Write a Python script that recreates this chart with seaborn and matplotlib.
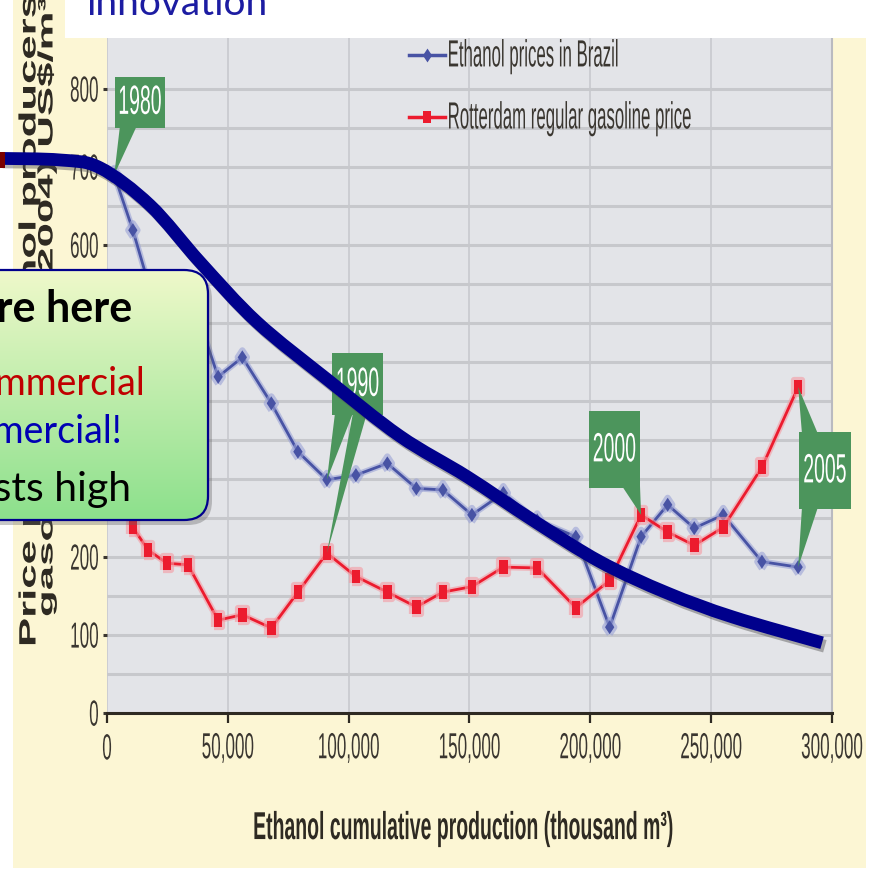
import numpy as np
import pandas as pd
import matplotlib
matplotlib.use("Agg")
import matplotlib.pyplot as plt
import seaborn as sns
from matplotlib import patheffects as pe
from matplotlib import font_manager
from matplotlib.lines import Line2D
from matplotlib.patches import Rectangle, FancyBboxPatch, Polygon, PathPatch
from matplotlib.path import Path
from matplotlib.transforms import Affine2D, IdentityTransform
from matplotlib.ticker import FixedLocator

# ---------------------------------------------------------------- data
cumulative_production = [3000, 10700, 17000, 24800, 33500, 46000, 56000, 68000,
                         79000, 91000, 103000, 116000, 128000, 139000, 151000,
                         164000, 178000, 194000, 208000, 221000, 232000, 243000,
                         255000, 271000, 286000]
ethanol_price = [690, 619, 552, 535, 546, 431, 456, 397, 335, 299, 305, 320, 288,
                 286, 254, 282, 247, 226, 110, 226, 267, 237, 254, 194, 187]
gasoline_price = [300, 238, 209, 192, 190, 119, 126, 109, 155, 205, 175, 155, 136,
                  155, 162, 187, 186, 135, 170, 254, 232, 215, 238, 315, 418]
series_names = ["Ethanol prices in Brazil", "Rotterdam regular gasoline price"]

x_ticks = [0, 50000, 100000, 150000, 200000, 250000, 300000]
x_tick_labels = ["0", "50,000", "100,000", "150,000", "200,000", "250,000", "300,000"]
y_ticks = [0, 100, 200, 300, 400, 500, 600, 700, 800]
y_tick_labels = ["0", "100", "200", "300", "400", "500", "600", "700", "800"]

# year call-outs: label, index of that year in the series, series the pointers reach
callout_years = ["1980", "1990", "2000", "2005"]
callout_index = [0, 9, 19, 24]
callout_targets = [["ethanol"], ["ethanol", "gasoline"], ["gasoline"], ["gasoline", "ethanol"]]

# hand-drawn learning curve laid over the chart (production, price)
learning_x = [-44300, -19400, -2900, 17800, 38500, 62100, 91400, 121200, 149000,
              176300, 204000, 231700, 259000, 295900]
learning_y = [711, 709, 699, 651, 578, 501, 427, 355, 303, 247, 194, 154, 123, 90]

# ---------------------------------------------------------------- style
W, H = 870, 872
BLUE = "#4853A4"
RED = "#EC1B2E"
CALLOUT_GREEN = "#4C955C"
NAVY = "#00008C"
PLOT_BG = "#E3E4E8"
CREAM = "#FCF6D4"
INK = "#3A3630"


def pick_font(candidates):
    for name in candidates:
        try:
            font_manager.findfont(font_manager.FontProperties(family=name),
                                  fallback_to_default=False)
            return name
        except ValueError:
            continue
    return "DejaVu Sans"


SANS = pick_font(["Liberation Sans", "Arial", "DejaVu Sans"])
SLIDE = pick_font(["Lato", "Open Sans"])


class Stretch(pe.AbstractPathEffect):
    """Scale text glyphs in their own frame around a point of their ink box."""

    def __init__(self, sx=1.0, sy=1.0, fx=0.5, fy=0.5):
        super().__init__()
        self.sx, self.sy, self.fx, self.fy = sx, sy, fx, fy

    def draw_path(self, renderer, gc, tpath, affine, rgbFace=None):
        v = tpath.vertices
        if len(v):
            (x0, y0), (x1, y1) = v.min(axis=0), v.max(axis=0)
            cx, cy = x0 + (x1 - x0) * self.fx, y0 + (y1 - y0) * self.fy
        else:
            cx = cy = 0.0
        st = Affine2D().translate(-cx, -cy).scale(self.sx, self.sy).translate(cx, cy)
        renderer.draw_path(gc, tpath, st + affine, rgbFace)


def fxf(x):
    return x / W


def fyf(y):
    return 1 - y / H


fig = plt.figure(figsize=(W / 100, H / 100), dpi=100, facecolor="white")

# cream backdrop of the chart picture
fig.add_artist(Rectangle((fxf(13), fyf(868)), fxf(866) - fxf(13), fyf(0) - fyf(868),
                         transform=fig.transFigure, facecolor=CREAM,
                         edgecolor="none", zorder=-5))

Y_MAX = 880
AX_L, AX_R, AX_B = 107, 832, 713
AX_T = AX_B - Y_MAX * 0.78
ax = fig.add_axes([fxf(AX_L), fyf(AX_B), fxf(AX_R) - fxf(AX_L), fyf(AX_T) - fyf(AX_B)],
                  zorder=1)
ax.set_facecolor(PLOT_BG)

n = len(cumulative_production)
df = pd.DataFrame({
    "production": cumulative_production + cumulative_production,
    "price": ethanol_price + gasoline_price,
    "series": [series_names[0]] * n + [series_names[1]] * n,
})

diamond = np.array([[0, -1], [0.66, 0], [0, 1], [-0.66, 0], [0, -1]])
tall_square = np.array([[-0.62, -1], [0.62, -1], [0.62, 1], [-0.62, 1], [-0.62, -1]])
palette = {series_names[0]: BLUE, series_names[1]: RED}
markers = {series_names[0]: diamond, series_names[1]: tall_square}

sns.lineplot(data=df, x="production", y="price", hue="series", style="series",
             palette=palette, markers=markers, dashes=False, sort=False,
             markersize=10, linewidth=2.0, markeredgewidth=0, legend=False,
             ax=ax, zorder=3)
glow = {BLUE: "#9AA2D6", RED: "#F59AA2"}
for line in ax.lines:
    c = matplotlib.colors.to_hex(line.get_color()).upper()
    line.set_path_effects([pe.Stroke(linewidth=4.5, foreground=glow.get(c, "#cccccc"),
                                     alpha=0.6), pe.Normal()])

ax.set_xlim(0, 300000)
ax.set_ylim(0, Y_MAX)
ax.set_xticks(x_ticks)
ax.set_xticklabels(x_tick_labels)
ax.set_yticks(y_ticks)
ax.set_yticklabels(y_tick_labels)
ax.yaxis.set_minor_locator(FixedLocator([v + 50 for v in y_ticks[:-1]]))
ax.tick_params(axis="y", which="minor", length=0)
ax.grid(axis="y", which="both", color="#C7C8CC", linewidth=2.2)
ax.grid(axis="x", which="major", color="#CACBD0", linewidth=1.3)
ax.set_axisbelow(True)
for side in ("top", "left"):
    ax.spines[side].set_visible(False)
ax.spines["right"].set_color("#B9BAC0")
ax.spines["right"].set_linewidth(1.5)
ax.spines["bottom"].set_color("#2E2A22")
ax.spines["bottom"].set_linewidth(2.2)
ax.tick_params(axis="x", which="major", length=7, width=1.6, color="#2E2A22",
               pad=13, labelsize=12.3, labelcolor=INK)
ax.tick_params(axis="y", which="major", length=3, width=2.2, color=INK,
               pad=3, labelsize=12.3, labelcolor=INK)
for lbl in ax.get_xticklabels() + ax.get_yticklabels():
    lbl.set_fontfamily(SANS)
    lbl.set_path_effects([Stretch(sy=2.12)])

# axis titles
ax.set_xlabel("Ethanol cumulative production (thousand m³)", fontsize=14,
              fontweight="bold", fontfamily=SANS, color="#2E2A22")
ax.xaxis.label.set_path_effects([Stretch(sy=2.0)])
ax.xaxis.set_label_coords((464 - AX_L) / (AX_R - AX_L), -(829 - AX_B) / (AX_B - AX_T))
ax.xaxis.label.set_va("center")

ax.set_ylabel("Price paid to alcohol producers and", fontsize=17, fontweight="bold",
              fontfamily=SANS, color="#2E2A22")
ylab = ax.yaxis.label
ylab.set_rotation_mode("anchor")
ylab.set_ha("left")
ylab.set_va("center")
ax.yaxis.set_label_coords(-(AX_L - 29) / (AX_R - AX_L), -(647 - AX_B) / (AX_B - AX_T))
ylab.set_path_effects([Stretch(sx=1.85, fx=0.0)])
ax.text(-(AX_L - 47) / (AX_R - AX_L), -(617 - AX_B) / (AX_B - AX_T),
        "gasoline prices (2004) US$/m³", transform=ax.transAxes, rotation=90,
        rotation_mode="anchor", ha="left", va="center", fontsize=15,
        fontweight="bold", fontfamily=SANS, color="#2E2A22",
        path_effects=[Stretch(sx=2.1, fx=0.0)])

# legend
handles = [
    Line2D([], [], color=BLUE, lw=2.5, marker=diamond, ms=10, mew=0),
    Line2D([], [], color=RED, lw=2.5, marker=tall_square, ms=9, mew=0),
]
leg = ax.legend(handles, series_names, loc="upper left", frameon=False,
                bbox_to_anchor=(fxf(409), fyf(49)), bbox_transform=fig.transFigure,
                handlelength=2.15, handletextpad=0.15,
                labelspacing=2.8, borderpad=0, borderaxespad=0,
                prop={"family": SANS, "size": 12.1})
for t in leg.get_texts():
    t.set_color(INK)
    t.set_path_effects([Stretch(sy=2.25)])

# year call-outs
fig.canvas.draw()
to_disp = ax.transData.transform
series_lookup = {"ethanol": ethanol_price, "gasoline": gasoline_price}
callout_layout = {
    "1980": dict(center=(140, 102), size=(50, 51), bases=[(-11.5, 17)]),
    "1990": dict(center=(357.5, 384), size=(51, 62), bases=[(-13.5, 18), (2.5, 14)]),
    "2000": dict(center=(614.5, 449.5), size=(51, 77), bases=[(16.5, 18)]),
    "2005": dict(center=(825, 470.5), size=(52, 77), bases=[(-15, 16), (-15, 16)]),
}
for year, idx, targets in zip(callout_years, callout_index, callout_targets):
    lay = callout_layout[year]
    cxp, cyp = lay["center"][0], H - lay["center"][1]
    bw, bh = lay["size"]
    ax.add_patch(Rectangle((cxp - bw / 2, cyp - bh / 2), bw, bh,
                           transform=IdentityTransform(), facecolor=CALLOUT_GREEN,
                           edgecolor="none", zorder=6, clip_on=False))
    for tgt, (dx, bwid) in zip(targets, lay["bases"]):
        tx, ty = to_disp((cumulative_production[idx], series_lookup[tgt][idx]))
        edge = cyp + bh / 2 - 2 if ty > cyp else cyp - bh / 2 + 2
        ax.add_patch(Polygon([(cxp + dx - bwid / 2, edge), (cxp + dx + bwid / 2, edge),
                              (tx, ty)], closed=True, transform=IdentityTransform(),
                             facecolor=CALLOUT_GREEN, edgecolor="none", zorder=6,
                             clip_on=False))
    ax.text(cxp, cyp, year, transform=IdentityTransform(), ha="center", va="center",
            color="white", fontsize=14, fontfamily=SANS, zorder=7,
            path_effects=[Stretch(sy=2.1)])

# ---------------------------------------------------------------- slide layer
ov = fig.add_axes([0, 0, 1, 1], zorder=5)
ov.set_xlim(0, W)
ov.set_ylim(H, 0)
ov.set_autoscale_on(False)
ov.axis("off")
ov.patch.set_alpha(0)

# title strip and left margin
ov.add_patch(Rectangle((65, -5), W - 60, 43, facecolor="white", edgecolor="none", zorder=1))
ov.add_patch(Rectangle((-5, -5), 18, H + 10, facecolor="white", edgecolor="none", zorder=1))
ov.text(87, 15, "innovation", ha="left", va="baseline", fontsize=28,
        fontfamily=SLIDE, color="#1C1CA2", zorder=2)

# note box with vertical gradient
box_kw = dict(boxstyle="round,pad=0,rounding_size=24")
ov.add_patch(FancyBboxPatch((-40 + 4, 270 + 5), 248, 250, facecolor="#606060",
                            edgecolor="none", alpha=0.35, zorder=2, **box_kw))
box = FancyBboxPatch((-40, 270), 248, 250, facecolor="none", edgecolor=NAVY,
                     linewidth=1.6, zorder=4, **box_kw)
ov.add_patch(box)
top_c = np.array([239, 249, 202]) / 255
bot_c = np.array([140, 224, 140]) / 255
t = np.linspace(0, 1, 256)[:, None, None]
grad = top_c[None, None, :] * (1 - t) + bot_c[None, None, :] * t
img = ov.imshow(grad, extent=[-40, 208, 520, 270], aspect="auto", zorder=3,
                interpolation="bilinear")
img.set_clip_path(box)

note_lines = [
    ("We are here", 132, 322, "black", "bold", 31),
    ("Gasoline: commercial", 145, 395, "#C00000", "normal", 27),
    ("Ethanol: not commercial!", 122, 443, "#0000B4", "normal", 27),
    ("Costs high", 131, 501, "black", "normal", 29.5),
]
for txt, xr, yb, col, wt, sz in note_lines:
    ov.text(xr, yb, txt, ha="right", va="baseline", color=col, fontweight=wt,
            fontsize=sz, fontfamily=SLIDE, zorder=5)

# learning curve drawn as a smooth Bezier path through its points
pts = np.column_stack([learning_x, learning_y]).astype(float)
verts = [pts[0]]
codes = [Path.MOVETO]
for i in range(len(pts) - 1):
    p0 = pts[max(i - 1, 0)]
    p1, p2 = pts[i], pts[i + 1]
    p3 = pts[min(i + 2, len(pts) - 1)]
    verts += [p1 + (p2 - p0) / 6, p2 - (p3 - p1) / 6, p2]
    codes += [Path.CURVE4] * 3
curve = PathPatch(Path(verts, codes), transform=ax.transData, facecolor="none",
                  edgecolor=NAVY, linewidth=9.2, capstyle="butt", clip_on=False,
                  zorder=6,
                  path_effects=[pe.SimpleLineShadow(offset=(2, -2.5), shadow_color="#555555",
                                                    alpha=0.45),
                                pe.Normal()])
ov.add_patch(curve)
ov.add_patch(Rectangle((-2, 152), 7, 16, facecolor="#7A0000", edgecolor="none", zorder=7))

fig.savefig("out.png", dpi=100, facecolor="white")
